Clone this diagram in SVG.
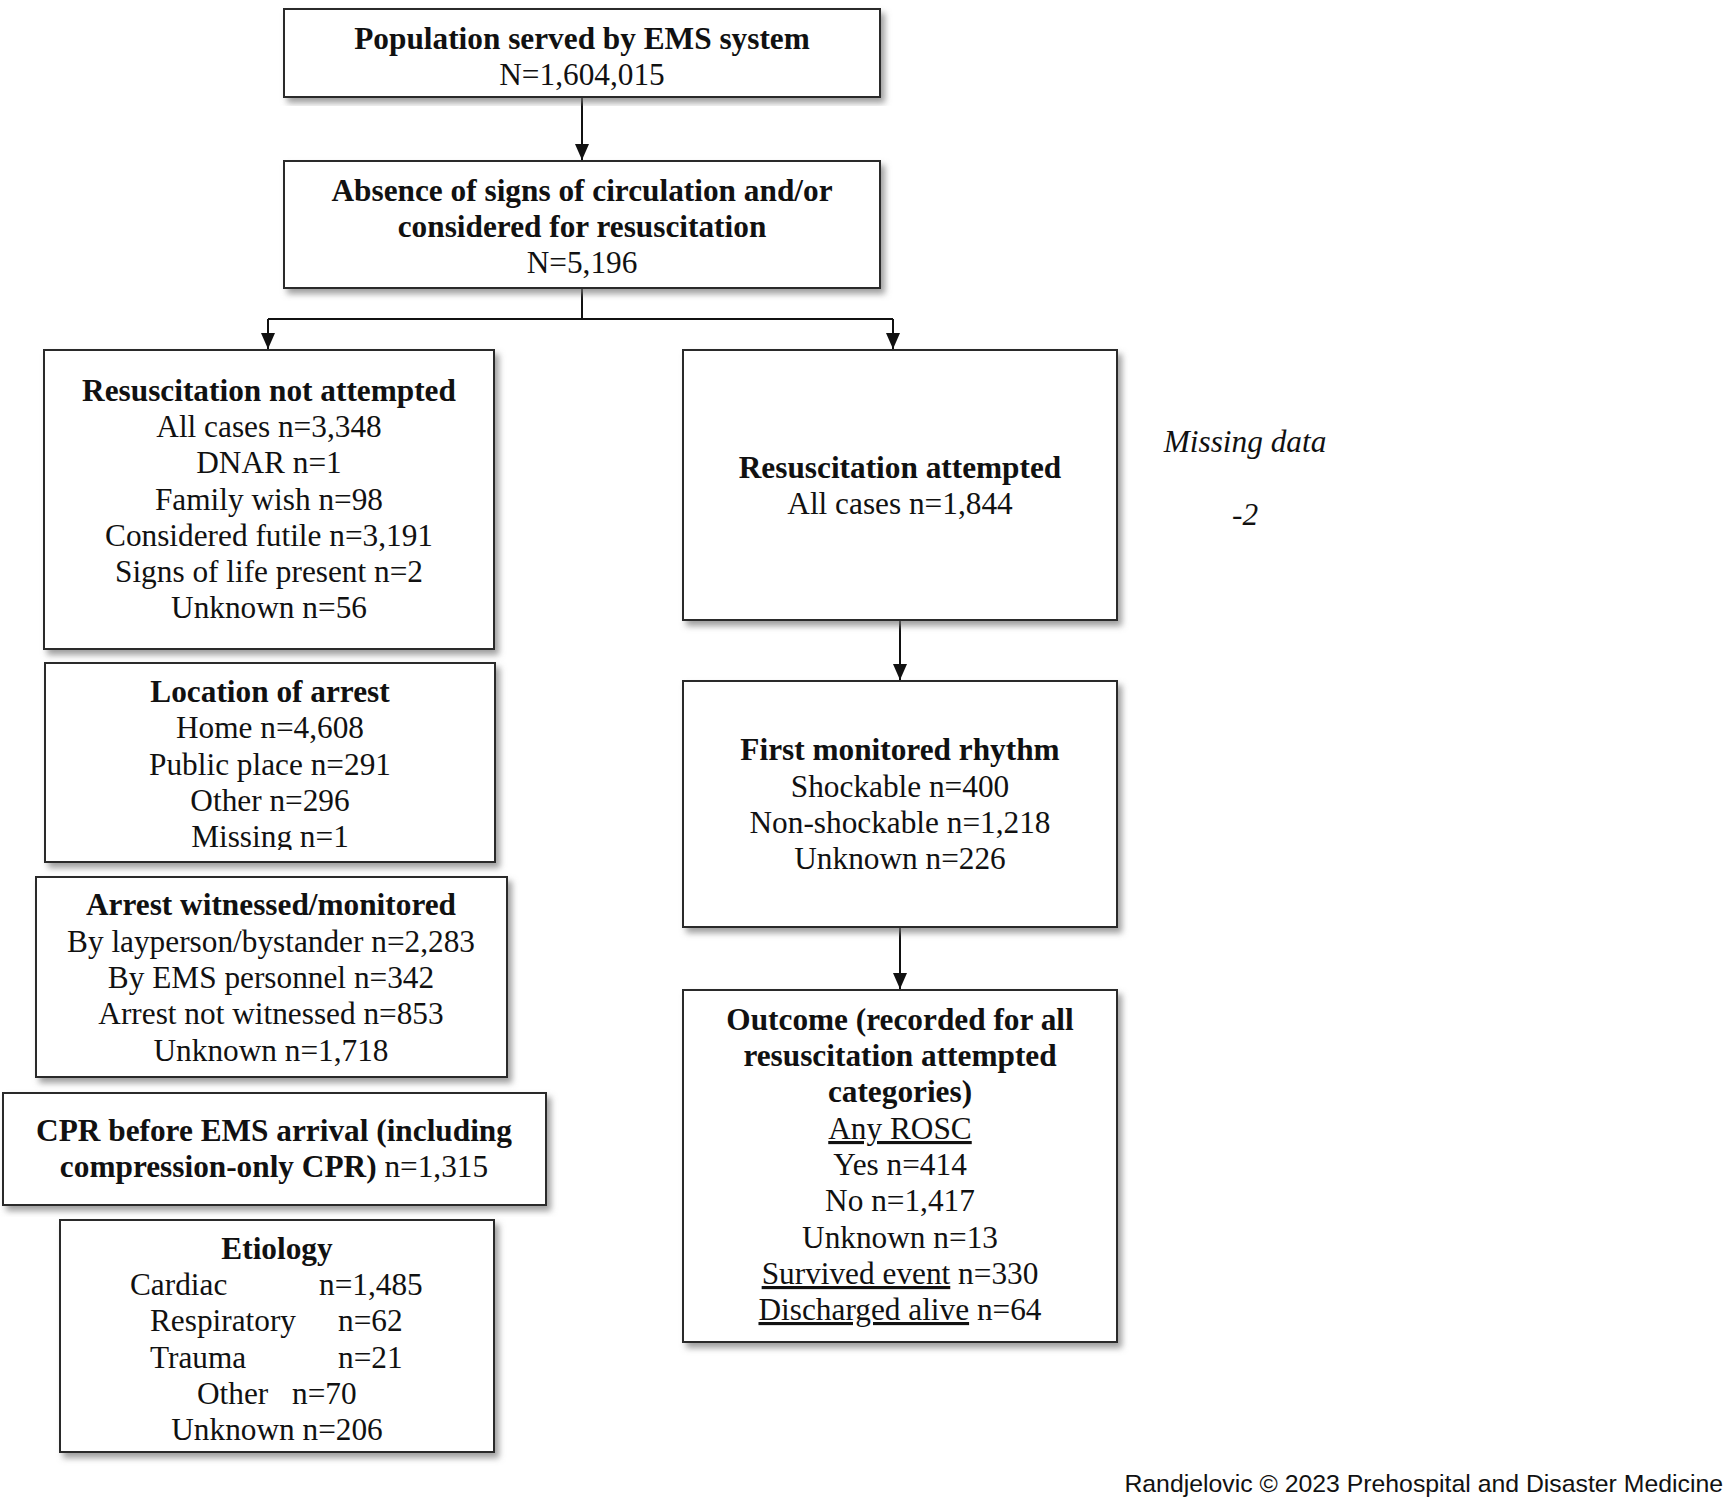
<svg xmlns="http://www.w3.org/2000/svg" width="1725" height="1497" viewBox="0 0 1725 1497">
<style>
.box{fill:#fff;stroke:#2a2a2a;stroke-width:2;filter:url(#sh)}
text{font-family:"Liberation Serif","Times New Roman",serif;font-size:31.3px;fill:#111;text-anchor:middle}
.b{font-weight:bold}
.u{text-decoration:underline}
.it{font-style:italic}
.ln{fill:none;stroke:#111;stroke-width:2}
.foot{font-family:"Liberation Sans",Arial,sans-serif;font-size:24.8px;text-anchor:end;fill:#111}
</style>
<defs>
<filter id="sh" x="-5%" y="-5%" width="115%" height="115%">
<feDropShadow dx="4" dy="5" stdDeviation="3" flood-color="#777" flood-opacity="0.7"/>
</filter>
<marker id="ar" viewBox="0 0 16 14" refX="16" refY="7" markerWidth="16" markerHeight="14" markerUnits="userSpaceOnUse" orient="auto">
<path d="M0,0 L16,7 L0,14 Z" fill="#111"/>
</marker>
<clipPath id="clipMiss"><rect x="45" y="820" width="450" height="30"/></clipPath>
</defs>

<g id="connectors">
<line class="ln" x1="582" y1="97" x2="582" y2="160" marker-end="url(#ar)"/>
<path class="ln" d="M582,288 V319 M268,319 H893"/>
<line class="ln" x1="268" y1="319" x2="268" y2="349" marker-end="url(#ar)"/>
<line class="ln" x1="893" y1="319" x2="893" y2="349" marker-end="url(#ar)"/>
<line class="ln" x1="900" y1="618" x2="900" y2="680" marker-end="url(#ar)"/>
<line class="ln" x1="900" y1="927" x2="900" y2="989" marker-end="url(#ar)"/>
</g>

<g id="population">
<rect class="box" x="284" y="9" width="596" height="88"/>
<text x="582" y="49" class="b">Population served by EMS system</text>
<text x="582" y="85">N=1,604,015</text>
</g>

<g id="absence">
<rect class="box" x="284" y="161" width="596" height="127"/>
<text x="582" y="201" class="b">Absence of signs of circulation and/or</text>
<text x="582" y="237" class="b">considered for resuscitation</text>
<text x="582" y="273">N=5,196</text>
</g>

<g id="not-attempted">
<rect class="box" x="44" y="350" width="450" height="299"/>
<text x="269" y="401" class="b">Resuscitation not attempted</text>
<text x="269" y="437">All cases n=3,348</text>
<text x="269" y="473">DNAR n=1</text>
<text x="269" y="510">Family wish n=98</text>
<text x="269" y="546">Considered futile n=3,191</text>
<text x="269" y="582">Signs of life present n=2</text>
<text x="269" y="618">Unknown n=56</text>
</g>

<g id="location">
<rect class="box" x="45" y="663" width="450" height="199"/>
<text x="270" y="702" class="b">Location of arrest</text>
<text x="270" y="738">Home n=4,608</text>
<text x="270" y="775">Public place n=291</text>
<text x="270" y="811">Other n=296</text>
<text x="270" y="847" clip-path="url(#clipMiss)">Missing n=1</text>
</g>

<g id="witnessed">
<rect class="box" x="36" y="877" width="471" height="200"/>
<text x="271" y="915" class="b">Arrest witnessed/monitored</text>
<text x="271" y="952">By layperson/bystander n=2,283</text>
<text x="271" y="988">By EMS personnel n=342</text>
<text x="271" y="1024">Arrest not witnessed n=853</text>
<text x="271" y="1061">Unknown n=1,718</text>
</g>

<g id="cpr">
<rect class="box" x="3" y="1093" width="543" height="112"/>
<text x="274" y="1141" class="b">CPR before EMS arrival (including</text>
<text x="274" y="1177"><tspan class="b">compression-only CPR)</tspan> n=1,315</text>
</g>

<g id="etiology">
<rect class="box" x="60" y="1220" width="434" height="232"/>
<text x="277" y="1259" class="b">Etiology</text>
<text x="130" y="1295" style="text-anchor:start">Cardiac</text>
<text x="319" y="1295" style="text-anchor:start">n=1,485</text>
<text x="150" y="1331" style="text-anchor:start">Respiratory</text>
<text x="338" y="1331" style="text-anchor:start">n=62</text>
<text x="150" y="1368" style="text-anchor:start">Trauma</text>
<text x="338" y="1368" style="text-anchor:start">n=21</text>
<text x="197" y="1404" style="text-anchor:start">Other<tspan x="292">n=70</tspan></text>
<text x="277" y="1440">Unknown n=206</text>
</g>

<g id="attempted">
<rect class="box" x="683" y="350" width="434" height="270"/>
<text x="900" y="478" class="b">Resuscitation attempted</text>
<text x="900" y="514">All cases n=1,844</text>
</g>

<g id="rhythm">
<rect class="box" x="683" y="681" width="434" height="246"/>
<text x="900" y="760" class="b">First monitored rhythm</text>
<text x="900" y="797">Shockable n=400</text>
<text x="900" y="833">Non-shockable n=1,218</text>
<text x="900" y="869">Unknown n=226</text>
</g>

<g id="outcome">
<rect class="box" x="683" y="990" width="434" height="352"/>
<text x="900" y="1030" class="b">Outcome (recorded for all</text>
<text x="900" y="1066" class="b">resuscitation attempted</text>
<text x="900" y="1102" class="b">categories)</text>
<text x="900" y="1139" class="u">Any ROSC</text>
<text x="900" y="1175">Yes n=414</text>
<text x="900" y="1211">No n=1,417</text>
<text x="900" y="1248">Unknown n=13</text>
<text x="900" y="1284"><tspan class="u">Survived event</tspan> n=330</text>
<text x="900" y="1320"><tspan class="u">Discharged alive</tspan> n=64</text>
</g>

<g id="missing-data">
<text x="1245" y="452" class="it">Missing data</text>
<text x="1245" y="525" class="it">-2</text>
</g>

<text class="foot" x="1723" y="1492">Randjelovic © 2023 Prehospital and Disaster Medicine</text>
</svg>
